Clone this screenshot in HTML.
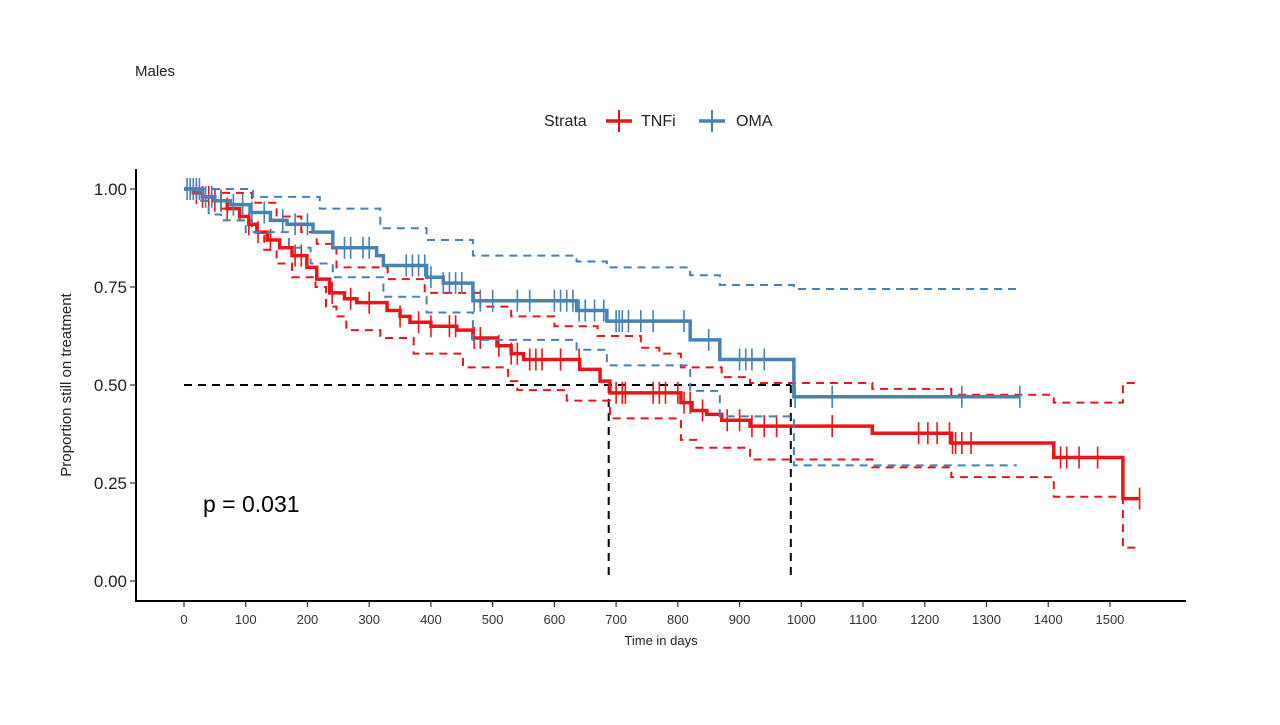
<!DOCTYPE html>
<html><head><meta charset="utf-8"><style>
body{margin:0;background:#fff}
svg text{font-family:"Liberation Sans",Arial,sans-serif}
</style></head><body>
<svg id="chart" width="1280" height="720" xmlns="http://www.w3.org/2000/svg">
<rect width="1280" height="720" fill="#fff"/>
<text x="135" y="76" font-size="15" fill="#222">Males</text>
<g>
<text x="544" y="126" font-size="16" fill="#222">Strata</text>
<g>
<line x1="606" y1="121" x2="632" y2="121" stroke="#e8161b" stroke-width="3.5"/><line x1="619" y1="110" x2="619" y2="132" stroke="#e8161b" stroke-width="2"/>
<text x="641" y="126" font-size="16" fill="#222">TNFi</text></g>
<g>
<line x1="699" y1="121" x2="725" y2="121" stroke="#4682b4" stroke-width="3.5"/><line x1="712" y1="110" x2="712" y2="132" stroke="#4682b4" stroke-width="2"/>
<text x="736" y="126" font-size="16" fill="#222">OMA</text></g>
</g>
<g id="plot"></g>
<line x1="135" y1="601" x2="1186" y2="601" stroke="#000" stroke-width="2"/>
<line x1="136" y1="169" x2="136" y2="602" stroke="#000" stroke-width="2"/>
<text x="661" y="645" font-size="13" text-anchor="middle" fill="#222">Time in days</text>
<text transform="translate(71,385) rotate(-90)" font-size="15" text-anchor="middle" fill="#222">Proportion still on treatment</text>
<text x="203" y="512" font-size="23" fill="#000">p = 0.031</text>
</svg>
<script>
const xTicks=[0,100,200,300,400,500,600,700,800,900,1000,1100,1200,1300,1400,1500];
const yTicks=[0,0.25,0.5,0.75,1];
const yTickLabels=["0.00","0.25","0.50","0.75","1.00"];
const medians=[688,983];
const tnfiT=[0,15,30,47,70,90,105,118,135,155,175,199,215,236,260,280,329,350,366,400,442,468,507,530,550,641,674,690,805,823,847,871,917,1115,1243,1409,1521];
const tnfiS=[1,0.99,0.98,0.97,0.95,0.93,0.91,0.89,0.87,0.85,0.83,0.80,0.77,0.735,0.72,0.71,0.69,0.675,0.66,0.65,0.64,0.62,0.60,0.58,0.565,0.54,0.51,0.48,0.455,0.435,0.425,0.41,0.395,0.377,0.352,0.315,0.21];
const tnfiEnd=1548;
const tnfiUpT=[0,60,110,150,190,215,247,330,390,480,530,600,670,740,770,805,871,917,1115,1243,1409,1521];
const tnfiUpS=[1,0.99,0.965,0.93,0.89,0.86,0.80,0.77,0.735,0.70,0.675,0.65,0.625,0.595,0.58,0.545,0.52,0.505,0.49,0.475,0.455,0.505];
const tnfiLoT=[0,30,60,90,110,130,150,175,213,230,247,263,318,372,452,525,540,620,690,805,830,917,1115,1243,1409,1521];
const tnfiLoS=[1,0.97,0.95,0.92,0.89,0.845,0.81,0.775,0.75,0.70,0.675,0.64,0.62,0.58,0.545,0.51,0.487,0.46,0.415,0.36,0.34,0.31,0.29,0.265,0.215,0.085];
const tnfiCILast=1543;
const tnfiCens=[20,30,40,50,60,70,105,120,140,180,190,240,270,300,350,380,400,430,440,470,480,510,530,540,560,570,580,610,640,700,710,715,760,770,780,800,810,820,840,880,900,920,940,960,1050,1190,1205,1220,1240,1245,1250,1260,1275,1420,1430,1450,1480,1548];
const omaT=[0,30,50,75,107,140,167,209,241,312,323,393,420,468,636,685,820,868,988];
const omaS=[1,0.98,0.97,0.96,0.94,0.92,0.91,0.89,0.85,0.83,0.805,0.775,0.76,0.715,0.69,0.663,0.615,0.565,0.47];
const omaEnd=1354;
const omaUpT=[0,112,220,318,393,468,636,685,820,868,988];
const omaUpS=[1,0.98,0.95,0.90,0.87,0.83,0.815,0.80,0.78,0.755,0.745];
const omaLoT=[0,20,40,60,100,170,205,241,323,393,468,636,685,820,868,988];
const omaLoS=[1,0.97,0.935,0.92,0.89,0.85,0.81,0.775,0.725,0.685,0.615,0.59,0.55,0.485,0.42,0.295];
const omaCILast=1349;
const omaCens=[5,10,15,20,25,35,45,60,80,95,110,130,160,180,200,260,270,290,300,360,370,380,390,400,420,430,440,450,470,480,500,540,560,600,610,620,630,640,650,665,680,700,705,710,720,740,760,810,850,900,910,920,940,990,1050,1260,1354];

const NS='http://www.w3.org/2000/svg';
const X=t=>184+t*0.6173, Y=s=>581-s*392;
const g=document.getElementById('plot'), svg=document.getElementById('chart');
function mk(tag,attrs,parent){const e=document.createElementNS(NS,tag);for(const k in attrs)e.setAttribute(k,attrs[k]);(parent||g).appendChild(e);return e;}
function stepD(T,S,end){let d='M'+X(T[0])+','+Y(S[0]);for(let i=1;i<T.length;i++){d+='H'+X(T[i])+'V'+Y(S[i]);}d+='H'+X(end);return d;}
function stepAt(T,S,t){let s=S[0];for(let i=0;i<T.length;i++){if(T[i]<=t)s=S[i];}return s;}
// ticks
xTicks.forEach(v=>{
 const l=mk('line',{x1:X(v),x2:X(v),y1:601,y2:607,stroke:'#333','stroke-width':1.2},svg);
 
 
 const t=mk('text',{x:X(v),y:624,'font-size':13,'text-anchor':'middle',fill:'#333'},svg);t.textContent=v;
 
 
});
yTicks.forEach((v,i)=>{
 const l=mk('line',{x1:130,x2:136,y1:Y(v),y2:Y(v),stroke:'#333','stroke-width':1.2},svg);
 
 
 const t=mk('text',{x:127,y:Y(v)+6,'font-size':17,'text-anchor':'end',fill:'#222'},svg);t.textContent=yTickLabels[i];
 
 
});
// median lines
const mh=mk('path',{d:'M'+X(0)+','+Y(0.5)+'H'+X(medians[1]),stroke:'#000','stroke-width':2,'stroke-dasharray':'8,6',fill:'none'});


medians.forEach(m=>{const l=mk('path',{d:'M'+X(m)+','+Y(0.5)+'V'+Y(0),stroke:'#000','stroke-width':2,'stroke-dasharray':'8,6',fill:'none'});
 
 });
function series(name,col,T,S,end,UT,US,LT,LS,ciEnd,cens){
 const u=mk('path',{d:stepD(UT,US,ciEnd),stroke:col,'stroke-width':2,'stroke-dasharray':'8,6',fill:'none'});
 
 
 const lo=mk('path',{d:stepD(LT,LS,ciEnd),stroke:col,'stroke-width':2,'stroke-dasharray':'8,6',fill:'none'});
 
 
 const p=mk('path',{d:stepD(T,S,end),stroke:col,'stroke-width':3.5,fill:'none'});
 
 
 cens.forEach(c=>{const y=Y(stepAt(T,S,c));const l=mk('line',{x1:X(c),x2:X(c),y1:y-11,y2:y+11,stroke:col,'stroke-width':1.6});
  
  });
}
series('tnfi','#e8161b',tnfiT,tnfiS,tnfiEnd,tnfiUpT,tnfiUpS,tnfiLoT,tnfiLoS,tnfiCILast,tnfiCens);
series('oma','#4682b4',omaT,omaS,omaEnd,omaUpT,omaUpS,omaLoT,omaLoS,omaCILast,omaCens);
</script>
</body></html>
